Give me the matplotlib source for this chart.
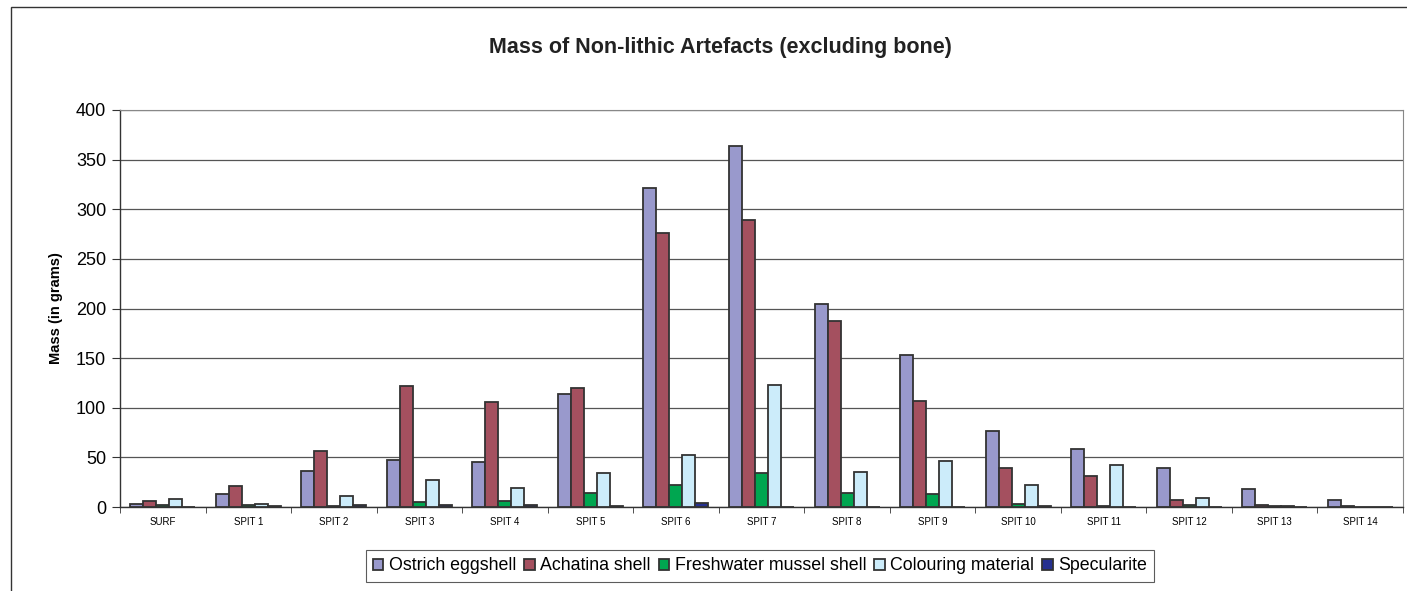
import numpy as np
import matplotlib.pyplot as plt
from matplotlib.patches import Rectangle

plt.rcParams['font.family'] = ['Liberation Sans', 'DejaVu Sans']

# spits / layers
spits = ["SURF", "SPIT 1", "SPIT 2", "SPIT 3", "SPIT 4", "SPIT 5", "SPIT 6", "SPIT 7",
         "SPIT 8", "SPIT 9", "SPIT 10", "SPIT 11", "SPIT 12", "SPIT 13", "SPIT 14"]

# masses in grams
ostrich = [3.4, 13, 36, 47, 45.5, 114, 321, 364, 205, 153, 76.5, 58, 39, 18, 7]
achatina = [6, 21, 56.5, 122, 105.5, 120, 276.5, 289, 187, 107, 39.5, 31, 7, 2, 1]
mussel = [2, 2, 1, 5.5, 6, 14, 22.5, 34.5, 14, 13, 3, 1.3, 2, 1.5, 0]
colouring = [8.5, 3.5, 11, 27, 19, 34, 52, 123, 35.5, 46.5, 22.5, 42, 9, 1, 0]
specularite = [0, 1, 2, 2, 2, 1, 4.3, 0, 0, 0, 0.7, 0, 0, 0, 0]

series = [
    ("Ostrich eggshell", ostrich, '#9999CC'),
    ("Achatina shell", achatina, '#A4505F'),
    ("Freshwater mussel shell", mussel, '#00A650'),
    ("Colouring material", colouring, '#CCECFA'),
    ("Specularite", specularite, '#26308F'),
]

fig = plt.figure(figsize=(14.07, 5.91), dpi=100)
ax = fig.add_axes([120 / 1407, 1 - 507 / 591, (1403 - 120) / 1407, (507 - 110) / 591])

x = np.arange(len(spits))
w = 0.152
for i, (name, vals, col) in enumerate(series):
    ax.bar(x + (i - 2) * w, vals, width=w, color=col, edgecolor='#333333',
           linewidth=1.3, label=name, zorder=3)

ax.set_xlim(-0.5, len(spits) - 0.5)
ax.set_ylim(0, 400)
ax.set_yticks(range(0, 401, 50))
ax.tick_params(axis='y', labelsize=13, direction='out', length=6, color='#333333', pad=4)
ax.yaxis.grid(True, color='#555555', linewidth=0.9, zorder=0)

ax.set_xticks(x)
ax.set_xticklabels(spits, fontsize=7)
ax.tick_params(axis='x', length=0, pad=7)
ax.set_xticks(np.arange(-0.5, len(spits)), minor=True)
ax.tick_params(axis='x', which='minor', length=4, direction='out', color='#333333')

ax.set_ylabel("Mass (in grams)", fontsize=10.5, fontweight='bold', labelpad=9)

for s in ['left', 'bottom']:
    ax.spines[s].set_color('#333333')
    ax.spines[s].set_linewidth(1.0)
for s in ['top', 'right']:
    ax.spines[s].set_color('#888888')
    ax.spines[s].set_linewidth(0.8)

fig.text(720 / 1407, 1 - 47 / 591, "Mass of Non-lithic Artefacts (excluding bone)",
         ha='center', va='center', fontsize=15.5, fontweight='bold', color='#222222')

leg = fig.legend(loc='center', bbox_to_anchor=(760 / 1407, 1 - 566 / 591), ncol=5,
                 fontsize=12.8, frameon=True, fancybox=False, handlelength=0.6,
                 handleheight=0.6, handletextpad=0.3, columnspacing=0.45,
                 borderpad=0.4, borderaxespad=0)
leg.get_frame().set_edgecolor('#333333')
leg.get_frame().set_linewidth(0.8)

# outer chart frame
fig.patches.append(Rectangle((11 / 1407, -0.1), 1.2, 1 - 7 / 591 + 0.1,
                             transform=fig.transFigure, fill=False,
                             edgecolor='#333333', linewidth=1.0))

fig.savefig('out.png', dpi=100)
